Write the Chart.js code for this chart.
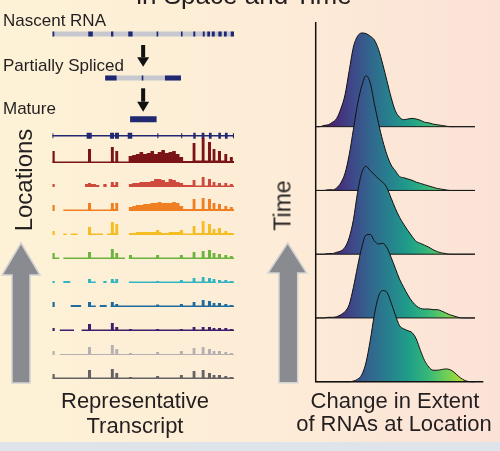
<!DOCTYPE html>
<html>
<head>
<meta charset="utf-8">
<script src="https://cdn.jsdelivr.net/npm/chart.js@4.4.1/dist/chart.umd.min.js"></script>
<style>
  html, body { margin: 0; padding: 0; }
  body {
    width: 500px; height: 451px; position: relative; overflow: hidden;
    background: linear-gradient(to right, #fdf2d6 0%, #fdecd7 55%, #fbe2d7 100%);
    font-family: "Liberation Sans", Arial, sans-serif; color: #231f20;
  }
  #footer { position: absolute; left: 0; top: 442px; width: 500px; height: 9px; background: #dfe3ea; }
  canvas { position: absolute; top: 0; }
  #left { left: 0; }
  #right { left: 250px; }
  .lbl { position: absolute; white-space: nowrap; }
</style>
</head>
<body>
<canvas id="left" width="250" height="451"></canvas>
<canvas id="right" width="250" height="451"></canvas>
<div id="footer"></div>
<script>
// ---- left panel: transcript structures (gene units 0-100) ----
const nascentExons = [[0, 1.1], [19.8, 22.3], [32.3, 33.6], [41.8, 44.2], [57.4, 58.3], [70.8, 71.7],
  [77.6, 78.7], [82.8, 83.9], [85.3, 86.8], [87.8, 89.4], [91.4, 93.2], [94.5, 96], [98.2, 100]];
const partialSpan = [29.1, 70.8];
const partialExons = [[29.1, 35.4], [49.2, 50.1], [62, 70.8]];
const matureExons = [[42.8, 57.4]];
const modelExons = [[18.9, 21.7], [31.8, 34], [34.5, 36.7], [41.5, 44], [77.6, 78.9], [82.2, 83.7],
  [86.2, 87.7], [91.4, 92.8], [95, 96.5]];
const modelTicks = [[0, 0.6], [57.8, 58.4], [70.9, 71.5], [99.4, 100]];

// background coverage per 2-unit bin (null = no reads)
const binWidth = 2;
const bgDarkRed = [1.5,1.5,1.5,1.5,1.5,1.5,1.5,1.5,1.5,1.5, 1.5,1.5,1.5,1.5,1.5,1.5,1.5,1.5,1.5,1.5,
  1.5,7,8,9,11,9,10,12,9,11, 13,10,11,12,9,6,2,2,2,2.5, 2.5,2.5,2.5,2.5,2.5,2.5,2.5,2.5,2,2];
const bgRed = [null,null,null,null,null,null,null,null,null,3, 3,3,2,null,3,null,2,2,null,null,
  null,3,4,4,5,5,5,6,8,8, 7,5,8,7,5,4,2,2,2,1.5, 1.5,1.5,1.5,1.5,1.5,1.5,1.5,1.5,1.5,1.5];
const bgOrange = [null,null,null,1.5,1.5,1.5,1.5,1.5,1.5,1.5, 1.5,1.5,1.5,1.5,1.5,1.5,2,2,null,null,
  null,4,5,6,6,7,7,8,8,9, 8,8,8,9,8,5,2,2,2,2, 2,2,2,2,2,2,2,2,2,2];
const bgYellow = [null,null,null,1.5,null,1.5,1.5,null,null,null, 1.5,1.5,1.5,1.5,null,1.5,2,2,null,null,
  null,2,2,3,3,3,3,3,3,3, 2,2,3,3,3,3,1.5,1.5,1.5,2, 2,2,2,2,2,2,2,2,2,2];
const bgGreen = [1.5,1.5,null,1.5,1.5,1.5,1.5,1.5,1.5,1.5, 1.5,1.5,1.5,1.5,1.5,1.5,1.5,1.5,1.5,1.5,
  null,1.5,1.5,1.5,1.5,1.5,1.5,1.5,1.5,1.5, 1.5,1.5,1.5,1.5,1.5,1.5,1.5,1.5,1.5,1.5, 1.5,1.5,1.5,1.5,1.5,1.5,1.5,1.5,1.5,1.5];
const bgCyan = [null,null,null,2,2,null,null,null,null,null, 1.5,1.5,null,null,2,null,1.5,1.5,null,null,
  null,1.5,1.5,1.5,1.5,1.5,1.5,1.5,1.5,1.5, 1.5,1.5,1.5,1.5,1.5,1.5,1.5,1.5,1.5,1.5, 1.5,1.5,1.5,1.5,1.5,null,1.5,1.5,1.5,1.5];
const bgBlue = [null,null,null,null,null,2,2,2,null,null, 1.5,1.5,null,2,2,null,1.5,1.5,1.5,1.5,
  1.5,1.5,1.5,1.5,1.5,1.5,1.5,1.5,1.5,1.5, 1.5,1.5,1.5,1.5,1.5,1.5,1.5,1.5,1.5,1.5, 1.5,1.5,1.5,1.5,1.5,1.5,1.5,1.5,1.5,1.5];
const bgPurple = [null,null,1.5,1.5,1.5,1.5,null,null,1.5,1.5, 1.5,1.5,1.5,1.5,1.5,1.5,1.5,1.5,1.5,1.5,
  1.5,1.5,1.5,1.5,1.5,1.5,1.5,1.5,1.5,1.5, 1.5,1.5,1.5,1.5,1.5,1.5,1.5,1.5,1.5,1.5, 1.5,1.5,1.5,1.5,1.5,1.5,1.5,1.5,1.5,1.5];
const bgLightGray = [null,null,1,1,1,1,1,1,1,1, 1,1,1,1,1,1,1,1,1,1,
  1,1,1,1,1,1,1,1,1,1, 1,1,1,1,1,1,1,1,1,1, 1,1,1,1,1,1,1,1,1,1];
const bgDarkGray = [1.5,1.5,1.5,1.5,1.5,1.5,1.5,1.5,1.5,1.5, 1.5,1.5,1.5,1.5,1.5,1.5,1.5,1.5,1.5,1.5,
  1.5,1.5,1.5,1.5,1.5,1.5,1.5,1.5,1.5,1.5, 1.5,1.5,1.5,1.5,1.5,1.5,1.5,1.5,1.5,1.5, 1.5,1.5,1.5,1.5,1.5,1.5,1.5,1.5,1.5,1.5];

// exon read peaks: positions (gene units) and heights per track
const peakPos = [0.5, 20.5, 33, 35.5, 43, 58, 71, 78, 83, 86.5, 89, 92, 95.5, 98.5];
const pkDarkRed = [12, 14, 16, 12, 0, 0, 0, 20, 25, 21, 14, 12, 9, 6];
const pkRed = [3, 4, 5, 5, 0, 0, 0, 7, 10, 8, 5, 4, 4, 3];
const pkOrange = [6, 8, 8, 8, 0, 0, 0, 12, 13, 12, 8, 7, 5, 4];
const pkYellow = [4, 8, 13, 11, 0, 5, 5, 9, 14, 11, 6, 7, 4, 2];
const pkGreen = [6, 7, 10, 6, 4, 4, 4, 7, 8, 9, 6, 5, 4, 3];
const pkCyan = [2, 4, 4, 4, 0, 2, 3, 5, 6, 5, 4, 3, 3, 2];
const pkBlue = [5, 5, 5, 3, 0, 2.5, 3, 5, 7, 6, 4, 4, 3, 2];
const pkPurple = [3, 7, 8, 4, 2, 2, 2, 4, 4, 4, 3, 3, 3, 2];
const pkLightGray = [4, 8, 10, 6, 2, 3, 4, 7, 8, 6, 4, 4, 3, 2];
const pkDarkGray = [5, 9, 10, 6, 2, 3, 4, 8, 9, 6, 4, 4, 3, 2];

const trackBg = [bgDarkRed, bgRed, bgOrange, bgYellow, bgGreen, bgCyan, bgBlue, bgPurple, bgLightGray, bgDarkGray];
const trackPeaks = [pkDarkRed, pkRed, pkOrange, pkYellow, pkGreen, pkCyan, pkBlue, pkPurple, pkLightGray, pkDarkGray];
const trackColors = ["#7a1416", "#cd4a3d", "#ef7f22", "#f4bd24", "#6cb33f", "#33b4c2", "#1f6b9e", "#3b1f6a", "#b5b0b2", "#656264"];

// ---- right panel: ridgeline densities (bottom = earliest time) ----
const extentX = [0,2.5,5,7.5,10,12.5,15,17.5,20,22.5,25,27.5,30,32.5,35,37.5,40,42.5,45,47.5,
  50,52.5,55,57.5,60,62.5,65,67.5,70,72.5,75,77.5,80,82.5,85,87.5,90,92.5,95];
const densityT1 = [0,0,0,0,0,0,0,0,0,0.01,0.04,0.11,0.3,0.64,1.05,1.34,1.43,1.4,1.24,1.05,
  0.88,0.83,0.8,0.77,0.67,0.49,0.33,0.23,0.18,0.18,0.19,0.2,0.19,0.15,0.09,0.04,0.01,0,0];
const densityT2 = [0,0,0,0.01,0.01,0.02,0.05,0.1,0.21,0.48,0.81,1.11,1.3,1.31,1.21,1.16,1.17,1.1,0.95,0.78,
  0.61,0.48,0.36,0.26,0.19,0.15,0.14,0.14,0.13,0.13,0.11,0.08,0.05,0.03,0.01,0,0,0,0];
const densityT3 = [0,0,0,0.01,0.01,0.03,0.05,0.11,0.26,0.54,0.97,1.28,1.38,1.31,1.25,1.18,1.13,1.04,0.88,0.72,
  0.58,0.47,0.37,0.28,0.2,0.17,0.14,0.11,0.07,0.04,0.02,0.01,0,0,0,0,0,0,0];
const densityT4 = [0,0,0,0.01,0.01,0.04,0.12,0.27,0.56,0.96,1.36,1.64,1.8,1.69,1.36,1.05,0.78,0.56,0.4,0.31,
  0.22,0.2,0.18,0.16,0.13,0.11,0.09,0.07,0.05,0.03,0.02,0.01,0,0,0,0,0,0,0];
const densityT5 = [0,0,0.02,0.03,0.07,0.13,0.28,0.5,0.88,1.25,1.42,1.47,1.46,1.42,1.36,1.21,0.98,0.72,0.46,0.25,
  0.15,0.11,0.12,0.13,0.12,0.1,0.07,0.06,0.04,0.03,0.02,0.01,0,0,0,0,0,0,0];
const timeDensities = [densityT1, densityT2, densityT3, densityT4, densityT5];
const viridis = ["#440154", "#482878", "#3e4989", "#31688e", "#26828e", "#1f9e89", "#35b779", "#6ece58", "#b5de2b", "#fde725"];

// row levels used by the left chart (1 unit = 1 px)
const trackGap = 24;
const peakHalf = 0.9;
const rowModel = 243.3, rowMature = 259.7, rowPartial = 301, rowNascent = 345;
const navy = "#1f2870";
const intronGray = "#c7c8cf";

function barSegments(list, y) {
  const pts = [];
  list.forEach(([a, b]) => pts.push({ x: a, y: y }, { x: b, y: y }, { x: b, y: null }));
  return pts;
}

function bgData(cov, base) {
  const pts = [];
  cov.forEach((v, k) => {
    const x0 = k * binWidth;
    if (v === null) {
      pts.push({ x: x0, y: null });
      return;
    }
    pts.push({ x: x0, y: base + v }, { x: x0 + binWidth, y: base + v });
  });
  return pts;
}

function peakData(heights, base) {
  const pts = [];
  heights.forEach((h, i) => {
    if (!h) return;
    const p = peakPos[i];
    pts.push({ x: p - peakHalf, y: base + h }, { x: p + peakHalf, y: base + h }, { x: p + peakHalf, y: null });
  });
  return pts;
}

function seg(data, color, width) {
  return { data: data, borderColor: color, borderWidth: width, fill: false, borderCapStyle: "butt" };
}

const leftSets = [
  seg([{ x: 0, y: rowNascent }, { x: 100, y: rowNascent }], intronGray, 5),
  seg(barSegments(nascentExons, rowNascent), navy, 5),
  seg([{ x: partialSpan[0], y: rowPartial }, { x: partialSpan[1], y: rowPartial }], intronGray, 5),
  seg(barSegments(partialExons, rowPartial), navy, 5),
  seg(barSegments(matureExons, rowMature), navy, 6),
  seg([{ x: 0, y: rowModel }, { x: 100, y: rowModel }], navy, 1.5),
  seg(barSegments(modelExons, rowModel), navy, 6),
  seg(barSegments(modelTicks, rowModel), navy, 5)
];
trackBg.forEach((cov, i) => {
  const base = (trackBg.length - 1 - i) * trackGap;
  [bgData(cov, base), peakData(trackPeaks[i], base)].forEach((d) => {
    leftSets.push({
      data: d,
      borderColor: "rgba(0,0,0,0)",
      borderWidth: 0,
      backgroundColor: trackColors[i],
      fill: { value: base }
    });
  });
});
// later datasets are painted over earlier ones
leftSets.forEach((ds, i) => { ds.order = leftSets.length - i; });

// small black arrows and the big grey arrows
function grayArrow(ctx, tipX, tipY, headY, headL, headR, shaftL, shaftR, bottom) {
  ctx.save();
  ctx.beginPath();
  ctx.moveTo(tipX, tipY);
  ctx.lineTo(headR, headY);
  ctx.lineTo(shaftR, headY);
  ctx.lineTo(shaftR, bottom);
  ctx.lineTo(shaftL, bottom);
  ctx.lineTo(shaftL, headY);
  ctx.lineTo(headL, headY);
  ctx.closePath();
  ctx.fillStyle = "#8a8b90";
  ctx.fill();
  ctx.strokeStyle = "#d2d2d2";
  ctx.lineWidth = 1.5;
  ctx.stroke();
  ctx.restore();
}

const leftDecor = {
  id: "leftDecor",
  afterDraw(chart) {
    const ctx = chart.ctx;
    const cx = chart.scales.x.getPixelForValue(50);
    [[45, 57.3, 66.7], [88.3, 101.7, 111.7]].forEach(([top, mid, tip]) => {
      ctx.save();
      ctx.fillStyle = "#111";
      ctx.fillRect(cx - 2, top, 4, mid - top);
      ctx.beginPath();
      ctx.moveTo(cx - 6, mid);
      ctx.lineTo(cx + 6, mid);
      ctx.lineTo(cx, tip);
      ctx.closePath();
      ctx.fill();
      ctx.restore();
    });
    grayArrow(ctx, 21, 243, 275, 2, 40, 12, 30, 383);
  }
};

new Chart(document.getElementById("left"), {
  type: "line",
  data: { datasets: leftSets },
  options: {
    responsive: false,
    animation: false,
    events: [],
    layout: { padding: { left: 52.3, right: 16, top: 4, bottom: 68 } },
    plugins: { legend: { display: false }, tooltip: { enabled: false }, filler: { drawTime: "beforeDatasetDraw" } },
    elements: { point: { radius: 0 }, line: { tension: 0 } },
    scales: {
      x: { type: "linear", display: false, min: 0, max: 100 },
      y: { type: "linear", display: false, min: -4, max: 375 }
    }
  },
  plugins: [leftDecor]
});

// ---- right chart ----
let gradCache = null;
function viridisFill(context) {
  const chart = context.chart;
  const area = chart.chartArea;
  if (!area) return null;
  if (!gradCache) {
    gradCache = chart.ctx.createLinearGradient(area.left, 0, area.right, 0);
    viridis.forEach((c, i) => gradCache.addColorStop(i / (viridis.length - 1), c));
  }
  return gradCache;
}

const rightSets = [];
timeDensities.forEach((dens, t) => {
  rightSets.push({
    data: extentX.map((x, i) => ({ x: x, y: t + dens[i] })),
    borderColor: "#111",
    borderWidth: 1,
    backgroundColor: viridisFill,
    fill: { value: t },
    cubicInterpolationMode: "monotone",
    clip: false,
    order: 2 * t + 3
  });
  if (t > 0) {
    rightSets.push({
      data: [{ x: 0, y: t }, { x: extentX[extentX.length - 1], y: t }],
      borderColor: "#1a1a1a",
      borderWidth: 1,
      fill: false,
      clip: false,
      order: 2 * t + 2
    });
  }
});
rightSets.push({
  data: [{ x: 0, y: 5.642 }, { x: 0, y: 0 }, { x: 100, y: 0 }],
  borderColor: "#111",
  borderWidth: 1.5,
  fill: false,
  clip: false,
  order: 1
});

const rightDecor = {
  id: "rightDecor",
  afterDraw(chart) {
    grayArrow(chart.ctx, 37.7, 243, 273, 18, 56.7, 29, 47.7, 382.7);
  }
};

new Chart(document.getElementById("right"), {
  type: "line",
  data: { datasets: rightSets },
  options: {
    responsive: false,
    animation: false,
    events: [],
    layout: { padding: { left: 65.7, right: 16.7, top: 22, bottom: 69.3 } },
    plugins: { legend: { display: false }, tooltip: { enabled: false }, filler: { drawTime: "beforeDatasetDraw" } },
    elements: { point: { radius: 0 }, line: { tension: 0 } },
    scales: {
      x: { type: "linear", display: false, min: 0, max: 100 },
      y: { type: "linear", display: false, min: 0, max: 5.642 }
    }
  },
  plugins: [rightDecor]
});

// ---- text labels ----
function addLabel(text, size, x, baseline, anchor) {
  const el = document.createElement("div");
  el.className = "lbl";
  el.textContent = text;
  el.style.fontSize = size + "px";
  el.style.lineHeight = size + "px";
  el.style.top = (baseline - 0.8465 * size) + "px";
  if (anchor === "center") {
    el.style.left = (x - 150) + "px";
    el.style.width = "300px";
    el.style.textAlign = "center";
  } else {
    el.style.left = x + "px";
  }
  document.body.appendChild(el);
}

function addVertical(text, size, baselineX, centerY) {
  const el = document.createElement("div");
  el.className = "lbl";
  el.textContent = text;
  el.style.fontSize = size + "px";
  el.style.lineHeight = size + "px";
  el.style.width = "200px";
  el.style.height = size + "px";
  el.style.textAlign = "center";
  const cx = baselineX - 0.3465 * size;
  el.style.left = (cx - 100) + "px";
  el.style.top = (centerY - size / 2) + "px";
  el.style.transform = "rotate(-90deg)";
  document.body.appendChild(el);
}

addLabel("in Space and Time", 26, 244, 3.5, "center");
addLabel("Nascent RNA", 17, 3, 26.7, "left");
addLabel("Partially Spliced", 17, 3, 71, "left");
addLabel("Mature", 17, 3, 114.3, "left");
addVertical("Locations", 24, 32, 180);
addVertical("Time", 23, 291, 205);
addLabel("Representative", 22, 135, 409, "center");
addLabel("Transcript", 22, 135, 434, "center");
addLabel("Change in Extent", 22, 395, 409, "center");
addLabel("of RNAs at Location", 22, 394, 432, "center");
</script>
</body>
</html>
